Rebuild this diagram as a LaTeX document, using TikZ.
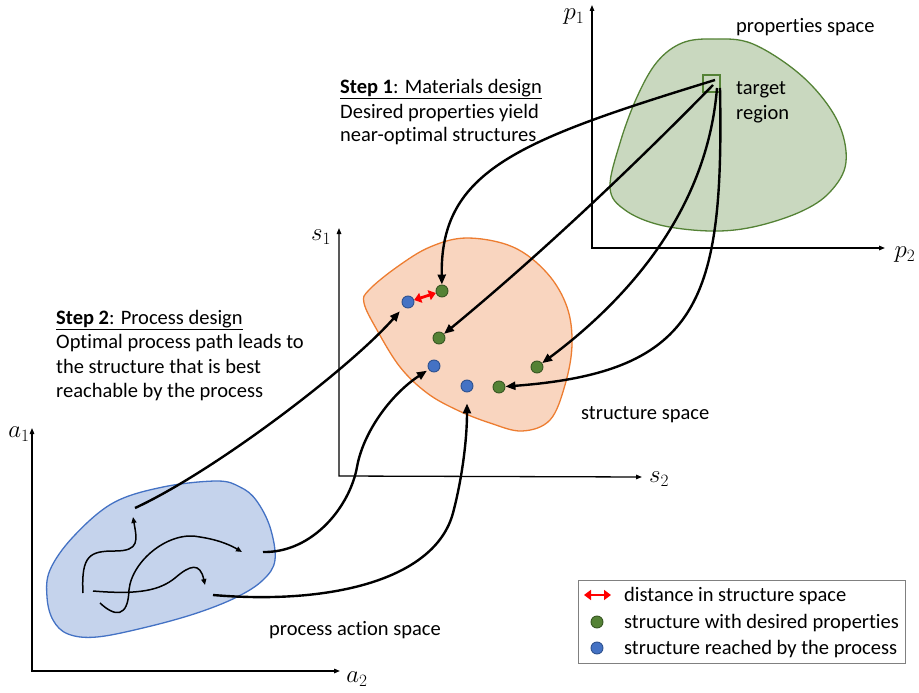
\documentclass[tikz,border=0pt]{standalone}
\usepackage{fontspec}
\setmainfont{Carlito}[Ligatures={NoCommon}]
\usetikzlibrary{arrows.meta}
\definecolor{gfill}{RGB}{201,216,191}
\definecolor{gline}{RGB}{84,130,53}
\definecolor{gdark}{RGB}{56,87,35}
\definecolor{ofill}{RGB}{249,213,191}
\definecolor{oline}{RGB}{237,125,49}
\definecolor{bfill}{RGB}{197,211,236}
\definecolor{bline}{RGB}{68,114,196}
\definecolor{bdark}{RGB}{47,82,143}
\begin{document}
\begin{tikzpicture}[x=1pt,y=-1pt,
  every node/.style={font=\fontsize{20.5}{24.4}\selectfont, inner sep=0pt},
  txt/.style={anchor=base west},
  mlab/.style={font=\fontsize{23}{26}\selectfont},
  axis/.style={line width=1.3pt,{Triangle[length=6pt,width=4.5pt]}-{Triangle[length=6pt,width=4.5pt]}},
  conn/.style={line width=2.4pt,-{Triangle[length=10pt,width=8pt]}},
  wig/.style={line width=1.5pt,-{Triangle[length=6pt,width=5pt]}},
  redarr/.style={red,line width=2.8pt,{Triangle[length=7pt,width=10pt]}-{Triangle[length=7pt,width=10pt]}},
  gdot/.style={circle,fill=gline,draw=gdark,line width=0.9pt,minimum size=12pt},
  bdot/.style={circle,fill=bline,draw=bdark,line width=0.9pt,minimum size=12pt}]
\useasboundingbox (0,0) rectangle (919,693);

% blobs
\draw[gline,fill=gfill,line width=1.3pt] plot[smooth cycle,tension=0.6] coordinates {(713,39) (753,44) (803,77) (837,120) (846,162) (830,192) (800,212) (753,227) (710,231) (660,225) (625,210) (610,188) (620,143) (637,97) (657,62) (682,43)};
\draw[oline,fill=ofill,line width=1.3pt] plot[smooth cycle,tension=0.6] coordinates {(467,238) (513,247) (547,273) (567,307) (572,345) (565,385) (550,420) (522,431) (490,423) (457,410) (427,393) (400,367) (377,330) (364,303) (369,290) (397,267) (430,247)};
\draw[bline,fill=bfill,line width=1.3pt] plot[smooth cycle,tension=0.6] coordinates {(217,481) (240,487) (256,500) (270,527) (275,560) (263,580) (237,597) (197,613) (147,627) (97,637) (68,634) (53,620) (47,597) (50,570) (73,537) (113,503) (163,487)};

% axes
\draw[axis] (592,5) -- (592,248) -- (885,248);
\draw[axis] (339,228) -- (339,476) -- (642,477);
\draw[axis] (32,428) -- (32,671) -- (340,671);
\node[mlab] (p1) at (574,17) {$p_1$};
\node[mlab] (p2) at (905,255) {$p_2$};
\node[mlab] (s1) at (321,237) {$s_1$};
\node[mlab] (s2) at (659,479) {$s_2$};
\node[mlab] (a1) at (19,434) {$a_1$};
\node[mlab] (a2) at (357,679) {$a_2$};

% target region
\node[draw=gline,line width=1.5pt,minimum size=17pt] (tsq) at (711.5,83.5) {};
\coordinate (t1) at (715,80);
\coordinate (t2) at (713,85);
\coordinate (t3) at (717,88);
\coordinate (t4) at (720,88);

% dots
\node[bdot] (b1) at (408,302) {};
\node[gdot] (g1) at (442,291) {};
\node[gdot] (g2) at (439,338) {};
\node[bdot] (b2) at (434,366) {};
\node[bdot] (b3) at (467,386) {};
\node[gdot] (g3) at (537,367) {};
\node[gdot] (g4) at (499,387) {};
\draw[redarr] (b1) -- (g1);

% design arrows
\draw[conn] (t1) .. controls (520,140) and (440,170) .. (g1);
\draw[conn] (t2) .. controls (622,178) and (530,263) .. (g2);
\draw[conn] (t3) .. controls (708,200) and (640,290) .. (g3);
\draw[conn] (t4) .. controls (724,300) and (700,372) .. (g4);

% process arrows
\coordinate (pa) at (135,508);
\coordinate (pb) at (263,552);
\coordinate (pbm) at (357,467);
\coordinate (pc) at (213,595);
\coordinate (pcm) at (453,513);
\draw[conn,shorten >=6pt] (pa) .. controls (215,471) and (350,368) .. (b1);
\draw[conn,shorten >=2pt] (pb) .. controls (313,553) and (350,506) .. (pbm) .. controls (363,433) and (390,395) .. (b2);
\draw[conn,shorten >=11pt] (pc) .. controls (330,605) and (435,580) .. (pcm) .. controls (462,479) and (467,440) .. (b3);

% wiggly process paths
\coordinate (w1s) at (83,593);
\coordinate (w1e) at (133,517);
\coordinate (w2s) at (100,603);
\coordinate (w2e) at (242,552);
\coordinate (w3s) at (93,591);
\coordinate (w3e) at (205,585);
\draw[wig] (w1s) .. controls (81,555) and (90,551) .. (115,551) .. controls (140,551) and (137,540) .. (w1e);
\draw[wig] (w2s) .. controls (115,617) and (128,618) .. (129,590) .. controls (132,560) and (170,530) .. (200,537) .. controls (220,540) and (232,546) .. (w2e);
\draw[wig] (w3s) .. controls (140,595) and (160,590) .. (175,578) .. controls (190,565) and (200,562) .. (w3e);

% texts
\node[txt] (st1a) at (340,93) {\underline{\textbf{Step 1}: Materials design}};
\node[txt] (st1b) at (340,118) {Desired properties yield};
\node[txt] (st1c) at (340,142) {near-optimal structures};
\node[txt] (st2a) at (56,324) {\underline{\textbf{Step 2}: Process design}};
\node[txt] (st2b) at (56,348) {Optimal process path leads to};
\node[txt] (st2c) at (56,373) {the structure that is best};
\node[txt] (st2d) at (56,397) {reachable by the process};
\node[txt] (ps) at (736,33) {properties space};
\node[txt] (tr1) at (736,95) {target};
\node[txt] (tr2) at (736,119) {region};
\node[txt] (ss) at (581,419) {structure space};
\node[txt] (pas) at (269,635) {process action space};

% legend
\node[draw=gray,line width=1pt,minimum width=327pt,minimum height=83pt,anchor=north west] (leg) at (578,580) {};
\coordinate (la) at (584,595);
\coordinate (lb) at (611,595);
\draw[redarr] (la) -- (lb);
\node[gdot] (lg) at (597,622) {};
\node[bdot] (lbd) at (597,648) {};
\node[txt] (l1) at (624,601) {distance in structure space};
\node[txt] (l2) at (624,628) {structure with desired properties};
\node[txt] (l3) at (624,654) {structure reached by the process};
\end{tikzpicture}
\end{document}
